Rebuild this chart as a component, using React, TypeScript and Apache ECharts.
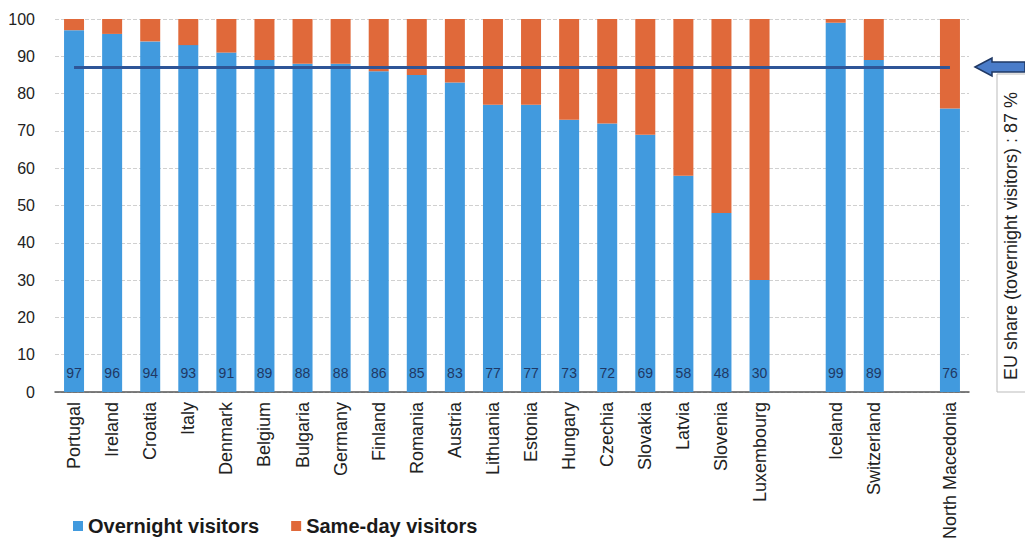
import React, { useEffect, useRef } from "react";
import * as echarts from "echarts";

const categories = [
  "Portugal", "Ireland", "Croatia", "Italy", "Denmark", "Belgium", "Bulgaria", "Germany",
  "Finland", "Romania", "Austria", "Lithuania", "Estonia", "Hungary", "Czechia", "Slovakia",
  "Latvia", "Slovenia", "Luxembourg", " ", "Iceland", "Switzerland", "  ", "North Macedonia",
];
const overnight: (number | null)[] = [
  97, 96, 94, 93, 91, 89, 88, 88, 86, 85, 83, 77, 77, 73, 72, 69, 58, 48, 30, null, 99, 89, null, 76,
];
const sameDay: (number | null)[] = [
  3, 4, 6, 7, 9, 11, 12, 12, 14, 15, 17, 23, 23, 27, 28, 31, 42, 52, 70, null, 1, 11, null, 24,
];
const euShare = 87;
const yTicks = [0, 10, 20, 30, 40, 50, 60, 70, 80, 90, 100];
const noteText = "EU share (tovernight visitors) : 87 %";

const FONT = "Liberation Sans, Arial, sans-serif";

export default function App() {
  const ref = useRef<HTMLDivElement>(null);
  useEffect(() => {
    const chart = echarts.init(ref.current!, null, { renderer: "svg" });
    chart.setOption({
      animation: false,
      textStyle: { fontFamily: FONT },
      grid: { left: 55, right: 56, top: 19, bottom: 147, outerBoundsMode: "none", containLabel: false },
      legend: {
        left: 68,
        top: 511,
        itemWidth: 10,
        itemHeight: 10,
        itemGap: 32,
        icon: "rect",
        textStyle: { fontSize: 20, fontWeight: "bold", color: "#1a1a1a", fontFamily: FONT },
        data: ["Overnight visitors", "Same-day visitors"],
      },
      xAxis: {
        type: "category",
        data: categories,
        axisLine: { lineStyle: { color: "#555", width: 1.5 } },
        axisTick: { show: false },
        axisLabel: { rotate: 90, fontSize: 18, color: "#222", interval: 0, margin: 10 },
      },
      yAxis: {
        type: "value",
        min: yTicks[0],
        max: yTicks[yTicks.length - 1],
        interval: 10,
        axisLine: { show: false },
        axisTick: { show: false },
        axisLabel: { fontSize: 16, color: "#222", margin: 20 },
        splitLine: { lineStyle: { color: "#d0d0d0", type: "dashed" } },
      },
      series: [
        {
          name: "Overnight visitors",
          type: "bar",
          stack: "v",
          data: overnight,
          barWidth: 20,
          itemStyle: { color: "#419ade" },
          label: {
            show: true,
            position: "insideBottom",
            distance: 12,
            fontSize: 14,
            color: "#1f3864",
          },
          markLine: {
            silent: true,
            symbol: "none",
            label: { show: false },
            lineStyle: { color: "#2e5597", width: 3, type: "solid" },
            data: [[{ coord: [categories[0], euShare] }, { coord: [categories[categories.length - 1], euShare] }]],
          },
        },
        {
          name: "Same-day visitors",
          type: "bar",
          stack: "v",
          data: sameDay,
          barWidth: 20,
          itemStyle: { color: "#e0693a" },
        },
      ],
      graphic: [
        {
          type: "polygon",
          shape: {
            points: [
              [975, 67], [992, 58], [992, 62], [1025, 62], [1025, 72], [992, 72], [992, 76],
            ],
          },
          style: { fill: "#4a7cc9", stroke: "#1f3864", lineWidth: 1.5 },
        },
        {
          type: "rect",
          shape: { x: 997, y: 74, width: 34, height: 318 },
          style: { fill: "#fff", stroke: "#bbb", lineWidth: 1 },
        },
        {
          type: "text",
          x: 1011,
          y: 236,
          rotation: Math.PI / 2,
          style: {
            text: noteText,
            fontSize: 18,
            fontFamily: FONT,
            fill: "#222",
            align: "center",
            verticalAlign: "middle",
          },
        },
      ],
    });
    return () => chart.dispose();
  }, []);
  return <div ref={ref} style={{ width: 1025, height: 539, position: "absolute", left: 0, top: 0 }} />;
}
